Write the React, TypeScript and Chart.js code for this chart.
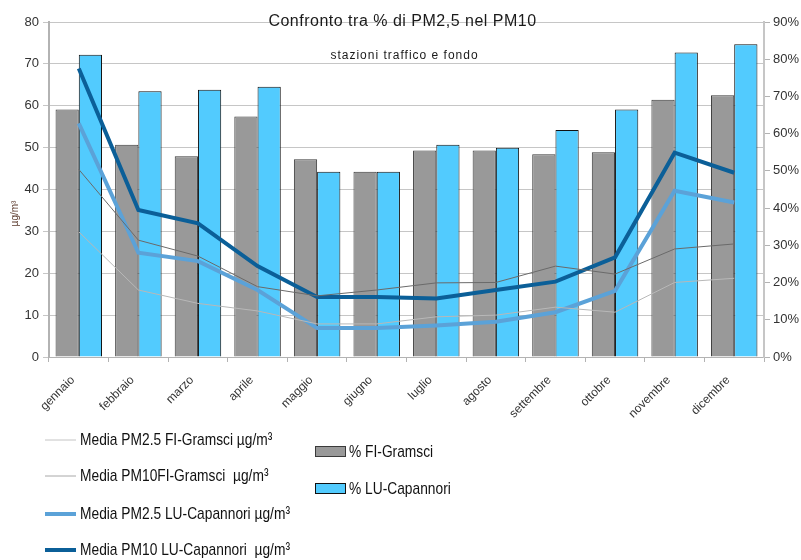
import React, { useEffect, useRef } from "react";
import { Chart, registerables } from "chart.js";

Chart.register(...registerables);

const months = ["gennaio", "febbraio", "marzo", "aprile", "maggio", "giugno", "luglio", "agosto", "settembre", "ottobre", "novembre", "dicembre"];
const pctFI = [66.5, 57.0, 53.9, 64.6, 53.1, 49.8, 55.5, 55.5, 54.5, 55.0, 69.1, 70.3];
const pctLU = [81.2, 71.4, 71.8, 72.6, 49.8, 49.8, 57.0, 56.2, 61.0, 66.5, 81.8, 84.0];
const pm25FI = [29.9, 16.0, 12.8, 11.0, 7.9, 7.9, 9.6, 10.0, 11.9, 10.7, 17.8, 18.8];
const pm10FI = [44.8, 27.9, 24.1, 16.8, 14.6, 16.0, 17.7, 17.8, 21.7, 19.8, 25.8, 27.0];
const pm25LU = [55.8, 24.9, 22.9, 16.0, 6.9, 6.9, 7.5, 8.4, 10.7, 15.8, 39.7, 36.9];
const pm10LU = [68.9, 35.1, 31.9, 21.7, 14.3, 14.3, 14.0, 16.0, 18.0, 23.8, 48.8, 44.0];

const TITLE = "Confronto tra % di PM2,5 nel PM10";
const SUBTITLE = "stazioni traffico e fondo";
const Y_TITLE = "µg/m³";

const SANS = "'Liberation Sans', Arial, sans-serif";
const NARROW_SCALE = 0.81;

const titlePlugin = {
  id: "customTitle",
  afterDraw(chart: any) {
    const { ctx, chartArea } = chart;
    const cx = (chartArea.left + chartArea.right) / 2 - 4;
    ctx.save();
    ctx.fillStyle = "#1a1a1a";
    ctx.textAlign = "center";
    ctx.textBaseline = "middle";
    ctx.font = `16px ${SANS}`;
    (ctx as any).letterSpacing = "0.5px";
    ctx.fillText(TITLE, cx, chartArea.top);
    ctx.font = `12px ${SANS}`;
    (ctx as any).letterSpacing = "1px";
    ctx.fillText(SUBTITLE, cx + 2, chartArea.top + 34);
    (ctx as any).letterSpacing = "0px";
    // y axis title
    ctx.translate(15, (chartArea.top + chartArea.bottom) / 2 + 24);
    ctx.rotate(-Math.PI / 2);
    ctx.font = `10px ${SANS}`;
    ctx.fillStyle = "#5b3a2c";
    ctx.fillText(Y_TITLE, 0, 0);
    ctx.restore();
  },
};

const legendPlugin = {
  id: "customLegend",
  afterDraw(chart: any) {
    const { ctx } = chart;
    const ds = chart.data.datasets;
    const lineRows = [440, 476, 514, 550];
    const barRows = [452, 489];
    const drawText = (t: string, x: number, y: number) => {
      ctx.save();
      ctx.translate(x, y);
      ctx.scale(NARROW_SCALE, 1);
      ctx.fillStyle = "#111";
      ctx.font = `17px ${SANS}`;
      ctx.textBaseline = "middle";
      ctx.textAlign = "left";
      ctx.fillText(t, 0, 0);
      ctx.restore();
    };
    ctx.save();
    let li = 0;
    let bi = 0;
    ds.forEach((d: any) => {
      if (d.type === "line") {
        const y = lineRows[li++];
        ctx.strokeStyle = d.legendColor || d.borderColor;
        ctx.lineWidth = d.borderWidth;
        ctx.beginPath();
        ctx.moveTo(45, y);
        ctx.lineTo(76, y);
        ctx.stroke();
        drawText(d.label, 80, y);
      } else {
        const y = barRows[bi++];
        ctx.fillStyle = d.backgroundColor;
        ctx.fillRect(315.5, y - 5.5, 30, 10);
        ctx.strokeStyle = d.borderColor;
        ctx.lineWidth = 1;
        ctx.strokeRect(315.5, y - 5.5, 30, 10);
        drawText(d.label, 349, y);
      }
    });
    ctx.restore();
  },
};

export default function App() {
  const ref = useRef<HTMLCanvasElement | null>(null);
  useEffect(() => {
    if (!ref.current) return;
    const chart = new Chart(ref.current, {
      type: "bar",
      data: {
        labels: months,
        datasets: [
          {
            type: "line",
            label: "Media PM2.5 FI-Gramsci µg/m³",
            data: pm25FI,
            yAxisID: "y",
            borderColor: "#b8b8b8",
            legendColor: "#c4c4c4",
            borderWidth: 1,
            pointRadius: 0,
            tension: 0,
            order: 0,
          } as any,
          {
            type: "line",
            label: "Media PM10FI-Gramsci  µg/m³",
            data: pm10FI,
            yAxisID: "y",
            borderColor: "#6a6a6a",
            legendColor: "#a8a8a8",
            borderWidth: 1,
            pointRadius: 0,
            tension: 0,
            order: 0,
          } as any,
          {
            type: "line",
            label: "Media PM2.5 LU-Capannori µg/m³",
            data: pm25LU,
            yAxisID: "y",
            borderColor: "#5ba2d8",
            borderWidth: 4,
            pointRadius: 0,
            tension: 0,
            order: 0,
          } as any,
          {
            type: "line",
            label: "Media PM10 LU-Capannori  µg/m³",
            data: pm10LU,
            yAxisID: "y",
            borderColor: "#0b5f98",
            borderWidth: 4,
            pointRadius: 0,
            tension: 0,
            order: 0,
          } as any,
          {
            type: "bar",
            label: "% FI-Gramsci",
            data: pctFI,
            yAxisID: "y1",
            backgroundColor: "#999999",
            borderColor: "#3a3a3a",
            borderWidth: 1,
            barPercentage: 1,
            categoryPercentage: 0.78,
            order: 1,
          } as any,
          {
            type: "bar",
            label: "% LU-Capannori",
            data: pctLU,
            yAxisID: "y1",
            backgroundColor: "#52cbfe",
            borderColor: "#111111",
            borderWidth: 1,
            barPercentage: 1,
            categoryPercentage: 0.78,
            order: 1,
          } as any,
        ],
      },
      options: {
        responsive: false,
        animation: false,
        devicePixelRatio: 1,
        layout: { padding: { left: 0, right: 0, top: 22, bottom: 140 } },
        plugins: {
          legend: { display: false },
          title: { display: false },
          tooltip: { enabled: false },
        },
        scales: {
          x: {
            offset: true,
            grid: {
              offset: true,
              drawOnChartArea: false,
              drawTicks: true,
              tickLength: 5,
              color: "#b3b3b3",
            },
            border: { color: "#b3b3b3", width: 1 },
            ticks: {
              minRotation: 45,
              maxRotation: 45,
              autoSkip: false,
              padding: 11,
              labelOffset: -6,
              color: "#333333",
              font: { family: SANS, size: 12 },
            },
            afterFit(scale: any) {
              scale.height = 63;
            },
          },
          y: {
            position: "left",
            min: 0,
            max: 80,
            ticks: {
              stepSize: 10,
              padding: 4,
              color: "#333333",
              font: { family: SANS, size: 13 },
            },
            grid: { color: "#c6c6c6", tickLength: 6, lineWidth: 1 },
            border: { color: "#b3b3b3", width: 2 },
            afterFit(scale: any) {
              scale.width = 49;
            },
          },
          y1: {
            position: "right",
            min: 0,
            max: 90,
            ticks: {
              stepSize: 10,
              padding: 3,
              color: "#333333",
              font: { family: SANS, size: 13 },
              callback: (v: any) => `${v}%`,
            },
            grid: { drawOnChartArea: false, tickLength: 6, color: "#b3b3b3" },
            border: { color: "#c6c6c6", width: 2 },
            afterFit(scale: any) {
              scale.width = 37;
            },
          },
        },
      } as any,
      plugins: [titlePlugin, legendPlugin],
    });
    return () => chart.destroy();
  }, []);
  return (
    <div style={{ position: "absolute", left: 0, top: 0, width: 801, height: 560, background: "#fff" }}>
      <canvas ref={ref} width={801} height={560} style={{ width: 801, height: 560, display: "block" }} />
    </div>
  );
}
